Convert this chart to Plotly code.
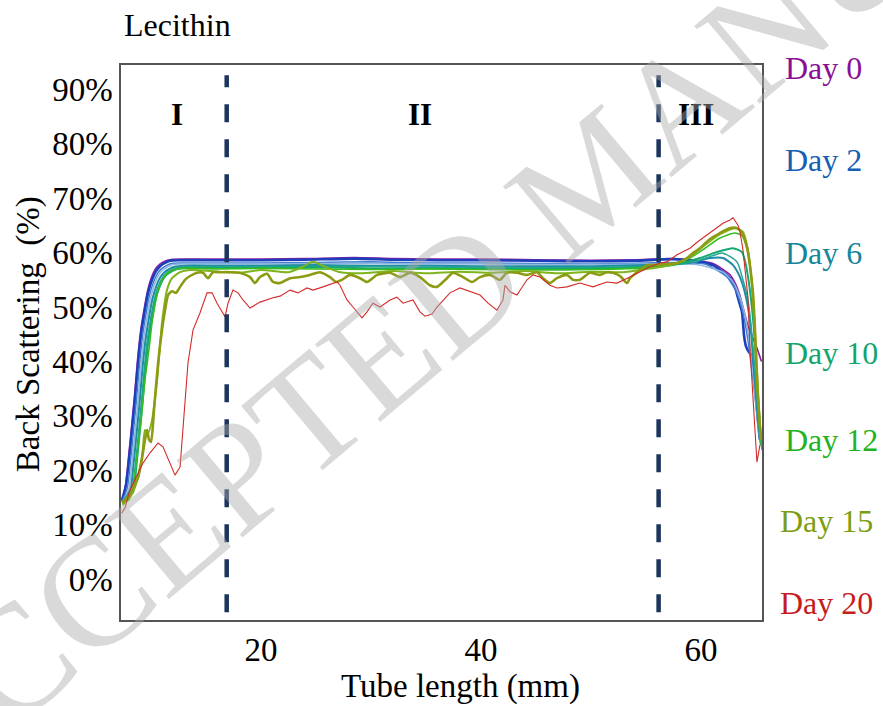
import plotly.graph_objects as go

FONT = "Liberation Serif, Times New Roman, serif"

# Back-scattering profiles (%) along the tube (mm) for the lecithin sample
day0_x = [7.36, 7.7, 7.95, 8.22, 8.5, 8.77, 9.04, 9.32, 9.7, 10.05, 10.4, 10.8, 11.25, 11.7, 12.6,
          16, 20, 24, 28.5, 32, 36, 40, 45, 50, 54, 57.5,
          59.91, 61.09, 62.0, 62.64, 63.09, 63.5, 63.9, 64.3, 64.7, 65.1, 65.5]
day0_y = [14.3, 17.5, 22.3, 27.8, 33.8, 40.2, 45.4, 49.0, 53.1, 55.5, 57.0, 57.9, 58.4, 58.7, 58.8,
          58.8, 58.8, 58.9, 59.1, 58.9, 58.8, 58.8, 58.7, 58.6, 58.7, 58.9,
          58.5, 58.0, 56.9, 55.9, 54.5, 52.4, 49.4, 46.4, 44.4, 42.4, 40.0]

day2_x = [7.36, 7.73, 8.0, 8.27, 8.55, 8.82, 9.09, 9.36, 9.73, 10.09, 10.45, 10.82, 11.27, 11.73, 12.64,
          16, 20, 24, 28.5, 32, 36, 40, 45, 50, 54, 57.5,
          59.91, 61.09, 62.0, 62.64, 63.09, 63.36, 63.73, 63.91, 64.09, 64.36, 64.64, 64.82, 65.0, 65.18, 65.36]
day2_y = [14.5, 17.3, 21.9, 27.4, 33.3, 39.7, 44.9, 48.5, 52.6, 55.0, 56.6, 57.5, 58.1, 58.5, 58.6,
          58.6, 58.6, 58.7, 58.9, 58.7, 58.6, 58.6, 58.5, 58.4, 58.5, 58.8,
          58.3, 57.7, 56.4, 55.3, 53.7, 51.7, 49.1, 44.9, 42.8, 41.7, 41.0, 38.4, 33.8, 29.2, 25.6]

day4_x = [7.4, 7.85, 8.12, 8.39, 8.67, 8.94, 9.21, 9.48, 9.85, 10.21, 10.57, 10.94, 11.39, 11.85, 12.76,
          16, 20, 25, 30, 35, 40, 45, 50, 55, 58,
          60.36, 61.09, 62.36, 63.27, 63.82, 64.27, 64.73, 65.09, 65.36]
day4_y = [14.3, 16.8, 21.4, 26.9, 32.8, 39.2, 44.4, 48.0, 52.1, 54.5, 56.1, 57.0, 57.6, 58.0, 58.1,
          58.1, 58.1, 58.2, 58.3, 58.1, 58.1, 58.0, 57.9, 58.1, 58.2,
          57.9, 57.2, 55.5, 52.6, 48.9, 43.9, 36.6, 30.5, 25.6]

day5_x = [7.4, 7.98, 8.25, 8.52, 8.8, 9.07, 9.34, 9.61, 9.98, 10.34, 10.7, 11.07, 11.52, 11.98, 12.89,
          16, 20, 25, 30, 35, 40, 45, 50, 55, 58,
          59.91, 62.0, 62.91, 63.55, 64.0, 64.45, 64.82, 65.18, 65.45]
day5_y = [14.2, 16.6, 21.2, 26.6, 32.5, 39.0, 44.2, 47.8, 51.9, 54.3, 55.9, 56.8, 57.4, 57.8, 57.9,
          57.9, 57.9, 58.0, 58.0, 57.9, 57.9, 57.8, 57.8, 57.9, 58.0,
          57.7, 56.4, 54.6, 51.8, 48.5, 43.0, 35.7, 28.3, 24.6]

day6_x = [7.4, 8.13, 8.4, 8.67, 8.95, 9.22, 9.49, 9.76, 10.13, 10.49, 10.85, 11.22, 11.67, 12.13, 13.04,
          16, 20, 25, 30, 35, 40, 45, 50, 55, 57.5,
          59.0, 60.82, 62.0, 62.91, 63.55, 64.0, 64.45, 64.82, 65.18, 65.45]
day6_y = [14.1, 16.4, 20.9, 26.3, 32.2, 38.6, 43.8, 47.4, 51.5, 53.9, 55.5, 56.4, 57.0, 57.4, 57.6,
          57.6, 57.6, 57.7, 57.6, 57.6, 57.5, 57.5, 57.5, 57.7, 57.9,
          58.1, 59.0, 59.0, 57.7, 55.5, 52.6, 47.6, 38.4, 29.2, 24.6]

day8_x = [7.4, 8.28, 8.55, 8.82, 9.1, 9.37, 9.64, 9.91, 10.28, 10.64, 11.0, 11.37, 11.82, 12.28, 13.19,
          16, 20, 25, 30, 35, 40, 45, 50, 55, 57.5,
          59.5, 61.0, 62.0, 63.27, 63.82, 64.27, 64.64, 65.0, 65.27, 65.55]
day8_y = [14.0, 16.2, 20.6, 26.0, 32.0, 38.4, 43.6, 47.2, 51.3, 53.7, 55.3, 56.2, 56.8, 57.2, 57.4,
          57.4, 57.4, 57.5, 57.4, 57.3, 57.3, 57.2, 57.3, 57.5, 57.8,
          58.4, 59.4, 59.9, 58.3, 55.0, 51.3, 44.9, 35.7, 28.3, 24.1]

day10_x = [7.4, 8.38, 8.65, 8.92, 9.2, 9.47, 9.74, 10.01, 10.38, 10.74, 11.1, 11.47, 11.92, 12.38, 13.29,
           16, 20, 25, 30, 35, 40, 45, 50, 55, 57.5,
           59.91, 61.45, 62.91, 63.73, 64.09, 64.45, 64.82, 65.09, 65.36, 65.55]
day10_y = [13.9, 16.0, 20.4, 25.8, 31.8, 38.2, 43.4, 47.0, 51.1, 53.5, 55.1, 56.0, 56.6, 57.0, 57.2,
           57.2, 57.2, 57.3, 57.1, 57.1, 57.0, 57.0, 57.1, 57.3, 57.7,
           59.0, 60.1, 60.8, 60.1, 57.7, 53.1, 45.8, 36.6, 28.3, 24.6]

day12_x = [7.4, 8.0, 8.27, 8.55, 8.82, 9.15, 9.45, 9.8, 10.09, 10.4, 10.64, 11.0, 11.55, 12.18, 13.1,
           16, 20, 25, 30, 35, 40, 45, 50, 55, 57.5,
           59.0, 60.36, 61.73, 63.09, 63.73, 64.18, 64.55, 64.82, 65.09, 65.36, 65.55]
day12_y = [13.8, 14.6, 15.8, 19.5, 24.3, 30.5, 36.6, 42.0, 47.1, 50.8, 53.1, 55.0, 56.3, 56.9, 57.1,
           57.0, 57.1, 57.0, 56.9, 57.0, 56.9, 56.8, 56.9, 57.2, 57.8,
           59.0, 60.8, 62.7, 63.6, 63.1, 60.8, 55.9, 47.6, 36.6, 27.4, 23.7]

day13_x = [7.4, 8.0, 8.55, 9.18, 9.45, 9.73, 10.09, 10.55, 11.0, 11.45, 11.91, 12.64, 13.55,
           15.5, 18, 20, 22.5, 23.8, 24.7, 25.8, 27, 29, 32, 35, 38, 41, 44, 47, 50, 53, 55.5, 57.5,
           59.0, 60.36, 61.73, 63.09, 63.82, 64.27, 64.64, 64.91, 65.18, 65.45]
day13_y = [13.6, 14.8, 16.9, 22.4, 27.4, 26.8, 29.2, 36.6, 47.1, 53.1, 55.3, 56.4, 56.8,
           56.6, 56.3, 56.8, 56.4, 57.4, 58.3, 57.4, 56.5, 56.2, 56.6, 56.2, 56.5, 56.3, 56.6, 56.2, 56.5, 56.4, 57.1, 57.8,
           59.2, 61.4, 63.4, 64.5, 63.8, 60.5, 54.0, 45.8, 34.7, 25.6]

day15_x = [7.36, 7.91, 8.36, 8.82, 9.18, 9.45, 9.64, 9.82, 10.0, 10.27, 10.64, 11.0, 11.27, 11.55, 11.91,
           12.27, 12.64, 13.09, 13.55, 14.18, 14.73, 15.18, 15.64, 16.27, 17.18, 18.09, 19.0, 19.45, 19.91,
           20.55, 21.09, 21.73, 22.64, 23.55, 24.45, 25.36, 26.27, 26.82, 27.36, 28.09, 29.0, 29.64, 30.55,
           31.73, 32.64, 33.55, 34.45, 35.36, 36.0, 36.91, 37.45, 38.36, 39.18, 39.91, 40.82, 41.73, 42.36,
           43.27, 44.18, 45.09, 45.64, 46.27, 46.91, 47.82, 48.36, 49.0, 49.91, 50.82, 51.45, 52.0, 52.64,
           53.27, 53.55, 54.18, 55.09, 56.0, 56.91, 57.82, 58.73, 59.27, 59.91, 60.82, 61.73, 62.64, 63.27,
           63.73, 64.18, 64.45, 64.73, 64.91, 65.18, 65.45]
day15_y = [14.0, 15.1, 16.7, 18.6, 22.2, 25.6, 27.4, 25.6, 25.2, 31.1, 39.7, 45.8, 49.4, 52.2, 52.9,
           52.6, 53.7, 55.0, 55.7, 56.3, 56.3, 55.3, 56.4, 56.4, 56.4, 56.3, 55.5, 54.4, 55.5,
           56.1, 54.6, 54.4, 55.3, 55.5, 55.9, 56.4, 55.5, 54.6, 55.0, 55.9, 55.3, 54.6, 55.9,
           56.3, 55.5, 56.3, 55.5, 54.0, 53.7, 55.3, 56.3, 55.5, 54.6, 55.5, 55.9, 55.0, 56.3,
           56.3, 55.9, 56.4, 55.3, 54.4, 55.3, 55.9, 55.0, 55.0, 56.3, 55.9, 56.4, 56.3, 55.7,
           54.4, 55.3, 56.4, 57.7, 57.7, 57.9, 58.1, 59.0, 59.9, 60.8, 62.5, 63.6, 64.5, 64.5,
           63.6, 61.0, 57.7, 52.6, 45.8, 33.5, 25.6]

day20_x = [7.33, 7.64, 8.09, 8.73, 9.27, 9.91, 10.64, 11.09, 11.64, 12.18, 12.64, 12.91, 13.36, 13.82,
           14.45, 15.09, 15.55, 16.0, 16.73, 17.0, 17.45, 17.91, 18.36, 19.0, 19.91, 21.09, 21.73, 22.64,
           23.36, 24.18, 24.73, 25.64, 26.91, 27.18, 27.82, 28.36, 29.0, 29.18, 29.64, 30.18, 30.82, 31.73,
           32.36, 32.91, 33.82, 34.45, 34.91, 35.55, 36.0, 37.18, 38.09, 39.0, 39.91, 40.64, 41.45, 42.0,
           42.18, 42.64, 43.27, 44.18, 44.73, 45.36, 46.27, 46.91, 47.82, 49.0, 50.18, 51.45, 52.36, 53.55,
           54.45, 55.36, 56.27, 56.91, 57.82, 58.36, 59.0, 59.64, 59.91, 60.82, 61.45, 62.0, 62.64, 62.91,
           63.36, 63.55, 63.82, 64.0, 64.27, 64.45, 64.73, 64.91, 65.09, 65.36]
day20_y = [12.1, 13.1, 16.4, 19.1, 21.3, 23.2, 25.0, 24.3, 21.5, 19.1, 20.6, 27.4, 39.7, 45.8,
           48.9, 52.6, 52.6, 50.7, 48.2, 50.7, 53.1, 52.6, 51.3, 49.8, 50.9, 51.7, 52.0, 53.1,
           52.6, 53.5, 53.1, 53.7, 54.6, 54.0, 51.3, 50.0, 48.5, 48.0, 49.1, 50.7, 50.0, 51.3,
           51.8, 50.7, 51.3, 49.1, 48.3, 48.7, 50.0, 52.6, 53.5, 52.8, 52.2, 50.7, 49.4, 51.3,
           54.0, 52.8, 52.2, 55.0, 55.9, 55.5, 54.0, 53.5, 53.7, 54.4, 53.7, 54.6, 54.4, 55.5,
           56.4, 57.4, 58.1, 58.3, 59.6, 60.1, 60.8, 61.9, 62.3, 63.8, 64.7, 65.4, 66.0, 66.4,
           65.1, 63.8, 60.5, 57.4, 51.8, 42.6, 33.5, 25.6, 21.5, 24.6]

# (name, x, y, colour, width, line shape)
series = [
    ("Day 0", day0_x, day0_y, "#8e1fa3", 1.6, "spline"),
    ("Day 2", day2_x, day2_y, "#1b3fba", 2.6, "spline"),
    ("Day 4", day4_x, day4_y, "#3f7cce", 1.5, "spline"),
    ("Day 5", day5_x, day5_y, "#8db6e2", 1.5, "spline"),
    ("Day 6", day6_x, day6_y, "#1e8ca2", 2.0, "spline"),
    ("Day 8", day8_x, day8_y, "#2aa596", 1.5, "spline"),
    ("Day 10", day10_x, day10_y, "#14a872", 2.0, "spline"),
    ("Day 12", day12_x, day12_y, "#36bd22", 1.6, "spline"),
    ("Day 13", day13_x, day13_y, "#7fb41e", 2.0, "spline"),
    ("Day 15", day15_x, day15_y, "#8c9b12", 2.6, "spline"),
    ("Day 20", day20_x, day20_y, "#d42a2a", 1.1, "linear"),
]

# Labels listed beside the plot
day_labels = ["Day 0", "Day 2", "Day 6", "Day 10", "Day 12", "Day 15", "Day 20"]
day_label_colors = ["#8b0f96", "#1660b3", "#17859a", "#12a56e", "#22b322", "#7d9e12", "#c61c1c"]
day_label_x = [1.033, 1.033, 1.033, 1.033, 1.033, 1.025, 1.025]
day_label_y = [0.995, 0.829, 0.661, 0.481, 0.324, 0.178, 0.031]

# Region boundaries (mm) and region names
boundaries = [16.88, 56.15]
regions = ["I", "II", "III"]
region_x = [12.36, 34.45, 59.55]
region_y = 85.3

x_ticks = [20, 40, 60]
y_ticks = [0, 10, 20, 30, 40, 50, 60, 70, 80, 90]
y_tick_text = ["0%", "10%", "20%", "30%", "40%", "50%", "60%", "70%", "80%", "90%"]

fig = go.Figure()
for name, xs, ys, color, width, shape in series:
    fig.add_trace(go.Scatter(
        x=xs, y=ys, mode="lines", name=name,
        line=dict(color=color, width=width, shape=shape, smoothing=0.6),
        showlegend=False, hoverinfo="skip",
    ))

for bx in boundaries:
    fig.add_shape(type="line", xref="x", yref="y", x0=bx, x1=bx, y0=-6.1, y1=92.6,
                  line=dict(color="#1b355c", width=4.5, dash="18px,17px"))

annotations = []
for txt, rx in zip(regions, region_x):
    annotations.append(dict(x=rx, y=region_y, xref="x", yref="y", text=f"<b>{txt}</b>",
                            showarrow=False, font=dict(family=FONT, size=31, color="black")))

for txt, col, lx, ly in zip(day_labels, day_label_colors, day_label_x, day_label_y):
    annotations.append(dict(x=lx, y=ly, xref="paper", yref="paper", text=txt, xanchor="left",
                            yanchor="middle", showarrow=False,
                            font=dict(family=FONT, size=32, color=col)))

annotations += [
    dict(x=0.0016, y=1.072, xref="paper", yref="paper", text="Lecithin", xanchor="left",
         yanchor="middle", showarrow=False, font=dict(family=FONT, size=32, color="black")),
    dict(x=0.5304, y=-0.1207, xref="paper", yref="paper", text="Tube length (mm)",
         showarrow=False, yanchor="middle", font=dict(family=FONT, size=33, color="black")),
    dict(x=-0.1451, y=0.515, xref="paper", yref="paper", text="Back Scattering\u00a0\u00a0(%)",
         textangle=-90, showarrow=False, xanchor="center", yanchor="middle",
         font=dict(family=FONT, size=33, color="black")),
    dict(x=0.735, y=0.80, xref="paper", yref="paper", text="ACCEPTED MANUSCRIPT",
         textangle=-40, showarrow=False, xanchor="center", yanchor="middle",
         font=dict(family=FONT, size=155, color="rgba(170,170,170,0.45)")),
]

axis_common = dict(showgrid=False, zeroline=False, showline=True, mirror=True,
                   linecolor="#555555", linewidth=1.5, ticks="",
                   tickfont=dict(family=FONT, size=33, color="black"))

fig.update_layout(
    width=883, height=706,
    margin=dict(l=121, r=121, t=65, b=86),
    paper_bgcolor="white", plot_bgcolor="white",
    xaxis=dict(range=[7.27, 65.55], tickvals=x_ticks, **axis_common),
    yaxis=dict(range=[-7.54, 94.49], tickvals=y_ticks, ticktext=y_tick_text, **axis_common),
    annotations=annotations,
    showlegend=False,
)

fig.write_html("out.html")
